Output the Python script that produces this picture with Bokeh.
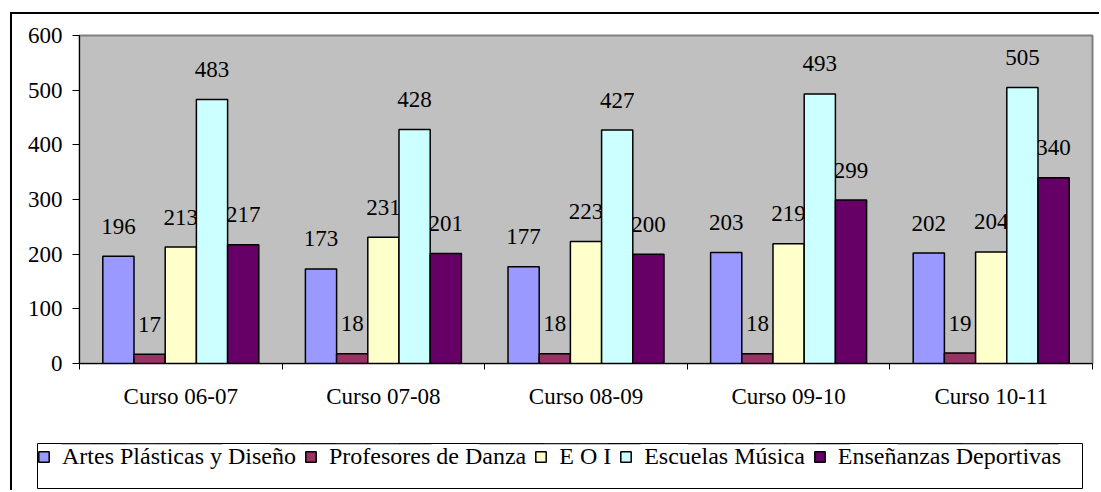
from bokeh.plotting import figure
from bokeh.models import (ColumnDataSource, Range1d, FixedTicker, Legend, LegendItem)
from bokeh.transform import dodge
from bokeh.core.properties import value
from bokeh.embed import file_html
from bokeh.resources import INLINE

# ---- data ----
cursos = ["Curso 06-07", "Curso 07-08", "Curso 08-09", "Curso 09-10", "Curso 10-11"]
artes = [196, 173, 177, 203, 202]
danza = [17, 18, 18, 18, 19]
eoi = [213, 231, 223, 219, 204]
musica = [483, 428, 427, 493, 505]
deportivas = [217, 201, 200, 299, 340]
series_names = ["Artes Plásticas y Diseño", "Profesores de Danza", "E O I",
                "Escuelas Música", "Enseñanzas Deportivas"]
series_keys = ["artes", "danza", "eoi", "musica", "deportivas"]
colors = ["#9999FF", "#993366", "#FFFFCC", "#CCFFFF", "#660066"]
y_ticks = [0, 100, 200, 300, 400, 500, 600]

FONT = "Liberation Serif"
FONTQ = "'Liberation Serif'"

n = len(cursos)
centers = [i + 0.5 for i in range(n)]
data = dict(xc=centers, cursos=cursos, artes=artes, danza=danza, eoi=eoi,
            musica=musica, deportivas=deportivas)
for k in series_keys:
    data[k + "_lbl"] = [str(v) for v in data[k]]
src = ColumnDataSource(data)

bw = 0.154
offsets = [-2 * bw, -bw, 0, bw, 2 * bw]

# ---- main chart ----
p = figure(width=1089, height=416,
           x_range=Range1d(0, n), y_range=Range1d(0, 600),
           output_backend="svg", toolbar_location=None,
           min_border_left=67, min_border_right=9, min_border_top=21, min_border_bottom=67,
           background_fill_color="#C0C0C0", border_fill_color="white",
           outline_line_color="#808080", outline_line_width=2)
p.margin = (12, 0, 0, 10)
p.styles = {"border-top": "2px solid black", "border-left": "2px solid black"}
p.xgrid.visible = False
p.ygrid.visible = False

yax = p.yaxis[0]
yax.ticker = FixedTicker(ticks=y_ticks)
yax.minor_tick_line_color = None
yax.major_tick_in = 0
yax.major_tick_out = 7
yax.axis_line_color = "black"
yax.major_tick_line_color = "black"
yax.major_label_text_font = FONTQ
yax.major_label_text_font_size = "23px"
yax.major_label_text_color = "black"
yax.major_label_standoff = 10

xax = p.xaxis[0]
xax.ticker = FixedTicker(ticks=centers, minor_ticks=list(range(n + 1)))
xax.major_label_overrides = {c: lab for c, lab in zip(centers, cursos)}
xax.major_tick_line_color = None
xax.major_tick_in = 0
xax.major_tick_out = 0
xax.minor_tick_line_color = "black"
xax.minor_tick_in = 0
xax.minor_tick_out = 6
xax.axis_line_color = "black"
xax.major_label_text_font = FONTQ
xax.major_label_text_font_size = "23px"
xax.major_label_text_color = "black"
xax.major_label_standoff = 14

for k, off in zip(series_keys, offsets):
    p.text(x=dodge("xc", off), y=k, text=k + "_lbl", source=src,
           text_align="center", text_baseline="alphabetic", y_offset=-30,
           text_font=value(FONTQ), text_font_size="23px", text_color="black")

for k, off, c in zip(series_keys, offsets, colors):
    p.vbar(x=dodge("xc", off), top=k, width=bw, source=src,
           fill_color=c, line_color="black", line_width=1.5)

# ---- legend strip (separate root so its box can start left of the plot frame) ----
lg = figure(width=1089, height=62, x_range=Range1d(0, n), y_range=Range1d(-2, -1),
            output_backend="svg", toolbar_location=None,
            x_axis_location=None, y_axis_location=None,
            min_border_left=25, min_border_right=19, min_border_top=15, min_border_bottom=2,
            background_fill_color="white", border_fill_color="white",
            outline_line_color="black", outline_line_width=1)
lg.margin = (0, 0, 0, 10)
lg.styles = {"border-left": "2px solid black"}
lg.xgrid.visible = False
lg.ygrid.visible = False
items = []
for k, off, nm, c in zip(series_keys, offsets, series_names, colors):
    # same bars as the chart, outside this strip's visible range: used only as legend swatches
    r = lg.vbar(x=dodge("xc", off), top=k, width=bw, source=src,
                fill_color=c, line_color="black", line_width=1.5)
    items.append(LegendItem(label=nm, renderers=[r]))
legend = Legend(items=items, orientation="horizontal", location="top_left",
                border_line_color=None, background_fill_alpha=0,
                padding=12, spacing=8, glyph_width=13, glyph_height=13,
                label_standoff=12, margin=0,
                label_text_font=FONT, label_text_font_size="24px", label_text_color="black")
lg.add_layout(legend, "center")

open("out.html", "w").write(file_html([p, lg], INLINE))
